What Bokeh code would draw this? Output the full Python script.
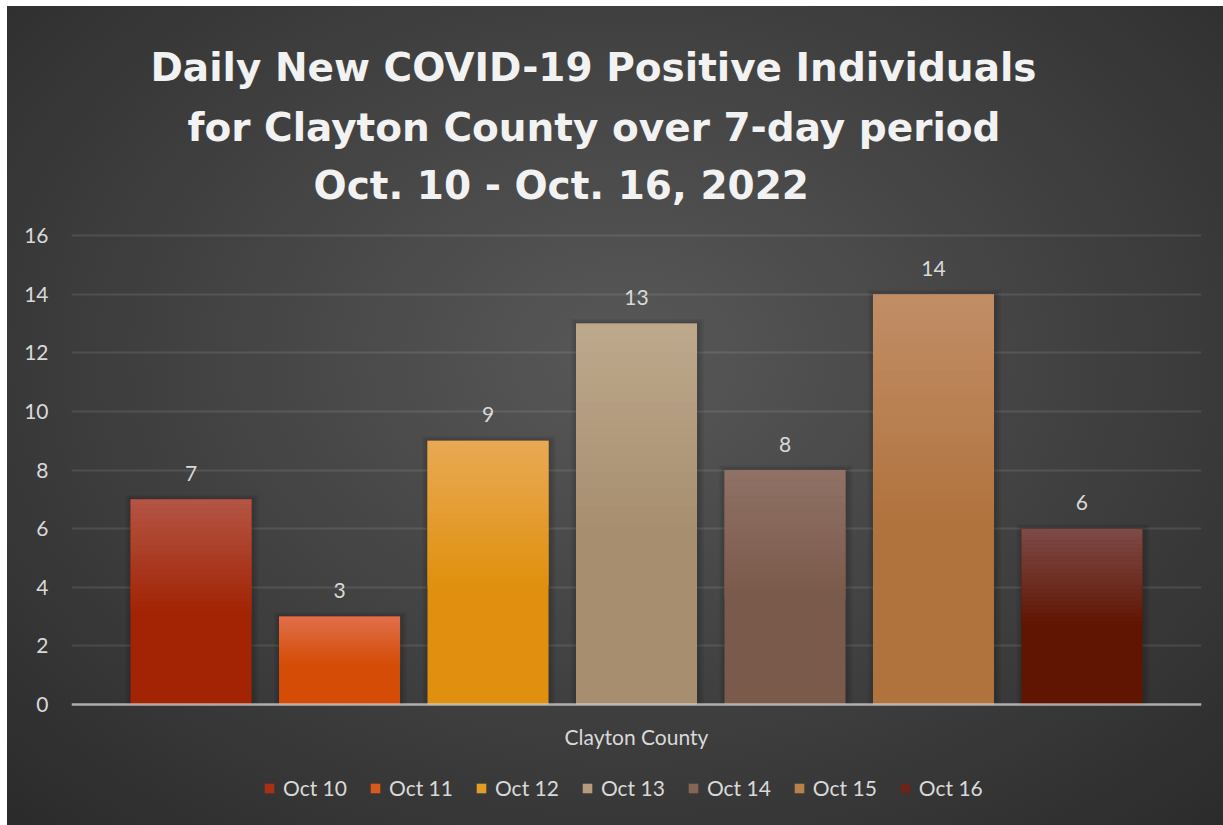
from bokeh.plotting import figure
from bokeh.models import (FactorRange, ColumnDataSource, Legend, LegendItem, Label,
                          Range1d, FixedTicker, Span)
from bokeh.transform import dodge
from bokeh.core.properties import value
from bokeh.embed import file_html
from bokeh.resources import INLINE

# ---- data ----
county = ["Clayton County"]
days = ["Oct 10", "Oct 11", "Oct 12", "Oct 13", "Oct 14", "Oct 15", "Oct 16"]
counts = [7, 3, 9, 13, 8, 14, 6]
y_ticks = [0, 2, 4, 6, 8, 10, 12, 14, 16]
title_lines = ["Daily New COVID-19 Positive Individuals",
               "for Clayton County over 7-day period",
               "Oct. 10 - Oct. 16, 2022"]

# ---- styles ----
colors_bottom = ["#A22404", "#D44C06", "#E0900E", "#A68E6F", "#7A5A4A", "#B1733E", "#5F1502"]
colors_top = ["#B35545", "#E16F4B", "#E9AA55", "#BEA98C", "#8F7166", "#C18E67", "#7E4B48"]
colors_legend = ["#A83014", "#DA5A1C", "#E49C28", "#B49C7E", "#846656", "#B98048", "#6A2418"]
TXT = "#D9D9D9"
FONT = "Lato"
FS = "21px"

# ---- layout (pixels) ----
W, H = 1223, 825
LEFT, RIGHT = 71, 22
FRAME_W = W - LEFT - RIGHT
AXIS_PX = 704          # pixel row of value 0 (from top)
PX_PER_UNIT = 469 / 16  # plot area height for 0..16
y_start = -(H - AXIS_PX) / PX_PER_UNIT
y_end = AXIS_PX / PX_PER_UNIT

p = figure(frame_width=FRAME_W, frame_height=H,
           x_range=FactorRange(*county, range_padding=0),
           y_range=Range1d(y_start, y_end), output_backend="svg", toolbar_location=None,
           min_border_left=LEFT, min_border_right=RIGHT, min_border_top=0,
           min_border_bottom=0)
p.title = None
p.background_fill_color = None
p.border_fill_color = None
p.outline_line_color = None
p.styles = {"background": ("linear-gradient(#ffffff, #ffffff) 0 0 / 7px 100% no-repeat, "
                           "linear-gradient(#ffffff, #ffffff) 0 0 / 100% 6px no-repeat, "
                           "radial-gradient(ellipse 72% 78% at 51% 43%, #585858 0%, #2b2b2b 100%)")}

stride = 0.1314
bw = 0.1071
items = []
for i, (d, v) in enumerate(zip(days, counts)):
    off = (i - 3) * stride
    src = ColumnDataSource(dict(x=county, top=[v]))
    # soft shadow halo
    for j in (3, 2, 1):
        p.vbar(x=dodge("x", off + 1.0 / FRAME_W, range=p.x_range),
               top=v + j * 1.5 / PX_PER_UNIT, bottom=0,
               width=bw + j * 4.0 / FRAME_W, source=src,
               fill_color="#000000", fill_alpha=0.06, line_color=None)
    p.vbar(x=dodge("x", off, range=p.x_range), top="top", width=bw, source=src,
           fill_color=colors_bottom[i], line_color=None)
    # gradient strips over the upper part of the bar
    n = 24
    bots, tops, cols = [], [], []
    c0 = tuple(int(colors_bottom[i][k:k + 2], 16) for k in (1, 3, 5))
    c1 = tuple(int(colors_top[i][k:k + 2], 16) for k in (1, 3, 5))
    for k in range(n):
        f0 = 0.45 + 0.55 * k / n
        f1 = 0.45 + 0.55 * (k + 1) / n
        t = (k + 0.5) / n
        c = tuple(int(round(a + (b - a) * t)) for a, b in zip(c0, c1))
        bots.append(v * f0)
        tops.append(min(v, v * f1 + 0.02))
        cols.append("#%02x%02x%02x" % c)
    ssrc = ColumnDataSource(dict(x=county * n, bottom=bots, top=tops, color=cols))
    p.vbar(x=dodge("x", off, range=p.x_range), bottom="bottom", top="top", width=bw,
           source=ssrc, fill_color="color", line_color=None)
    lsrc = ColumnDataSource(dict(x=county, y=[v], t=[str(v)]))
    p.text(x=dodge("x", off, range=p.x_range), y="y", text="t", source=lsrc,
           text_align="center", text_baseline="alphabetic", y_offset=-26,
           text_font=value(FONT), text_font_size=FS, text_color=TXT)
    # legend proxy
    proxy = p.vbar(x=dodge("x", off, range=p.x_range), top=0, width=0, source=src,
                   fill_color=colors_legend[i], line_color=None)
    items.append(LegendItem(label=d, renderers=[proxy]))

# y axis
p.yaxis.ticker = FixedTicker(ticks=y_ticks)
p.yaxis.axis_line_color = None
p.yaxis.major_tick_line_color = None
p.yaxis.minor_tick_line_color = None
p.yaxis.major_label_standoff = 17
p.yaxis.major_label_text_font = FONT
p.yaxis.major_label_text_font_size = FS
p.yaxis.major_label_text_color = TXT

# category axis drawn inside the plot: baseline + category label
p.xaxis.visible = False
p.add_layout(Span(location=0, dimension="width", line_color="#D9D9D9",
                  line_alpha=0.7, line_width=2.5))
p.add_layout(Label(x=FRAME_W / 2, y=H - 736, x_units="screen", y_units="screen",
                   text=county[0], text_align="center", text_baseline="middle",
                   text_font=FONT, text_font_size=FS, text_color=TXT))

p.xgrid.grid_line_color = None
p.ygrid.grid_line_color = "#FFFFFF"
p.ygrid.grid_line_alpha = 0.1
p.ygrid.grid_line_width = 2

legend = Legend(items=items, orientation="horizontal", location=(182, 15),
                spacing=22, label_standoff=8, glyph_width=12, glyph_height=12,
                label_text_font=FONT, label_text_font_size=FS, label_text_color=TXT,
                background_fill_alpha=0, border_line_alpha=0, margin=0, padding=10)
p.add_layout(legend, "center")

# title lines (left edge offset from plot-area left, baseline from bottom)
title_x = [150 - LEFT, 187 - LEFT, 313 - LEFT]
title_y = [H - 67, H - 127, H - 185]
for line, tx, ty in zip(title_lines, title_x, title_y):
    p.add_layout(Label(x=tx, y=ty, x_units="screen", y_units="screen", text=line,
                       text_align="left", text_baseline="alphabetic",
                       text_font="DejaVu Sans", text_font_style="bold",
                       text_font_size="39px", text_color="#F2F2F2"))

open("out.html", "w").write(file_html(p, INLINE))
